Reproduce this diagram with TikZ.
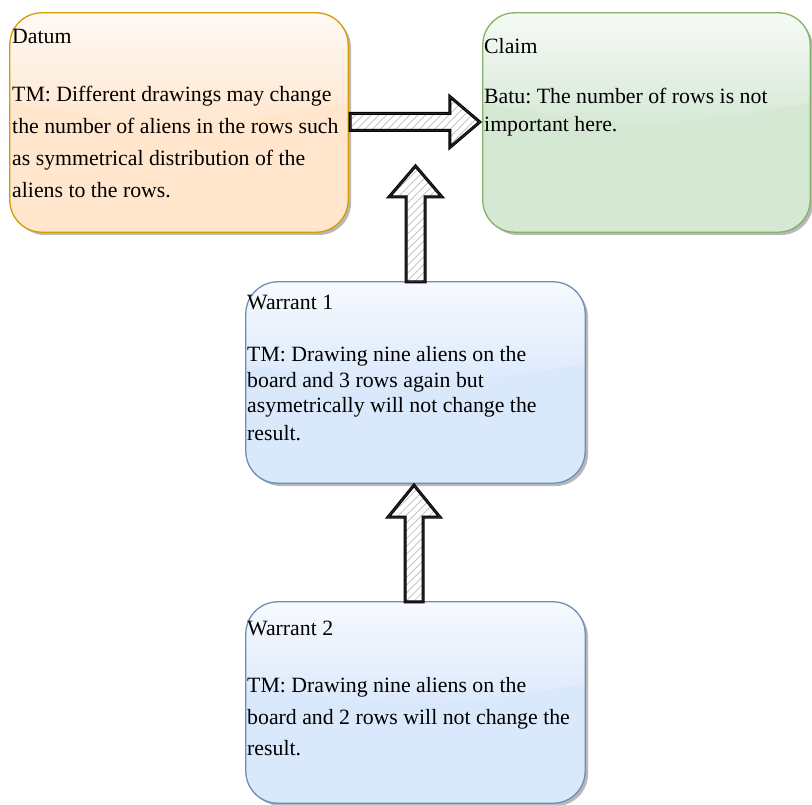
\documentclass[tikz,border=0pt]{standalone}
\usepackage{fontspec}
\setmainfont{Liberation Serif}
\usetikzlibrary{calc,patterns.meta,shadows,fadings}

\definecolor{datumfill}{HTML}{FFE6CC}
\definecolor{datumline}{HTML}{D79B00}
\definecolor{claimfill}{HTML}{D5E8D4}
\definecolor{claimline}{HTML}{82B366}
\definecolor{warrfill}{HTML}{DAE8FC}
\definecolor{warrline}{HTML}{6C8EBF}

\tikzset{
  card/.style={rectangle, rounded corners=32pt, inner sep=0pt,
    drop shadow={shadow xshift=3pt, shadow yshift=-3pt, fill=black, opacity=0.28}},
  cardedge/.style={rounded corners=32pt, line width=1.3pt},
  txt/.style={anchor=base west, inner sep=0pt, font=\fontsize{21.8}{26}\selectfont},
  hatch/.style={pattern={Lines[angle=45,distance=5.5pt,line width=0.7pt]}, pattern color=gray!55},
  arrowline/.style={draw=black, line width=3pt, line join=miter},
  arrowsketch/.style={draw=black!85, line width=1.1pt, line join=miter},
}

% glassy highlight over the upper part of a card, then its outline
\newcommand{\glasscard}[2]{%
  \begin{scope}
    \clip[rounded corners=32pt] (#1.north west) rectangle (#1.south east);
    \fill[white, fill opacity=0.8, path fading=south]
      (#1.north west)
      -- ($(#1.north west)!0.41!(#1.south west)$)
      .. controls ($(#1.north)!0.54!(#1.south)$)
      .. ($(#1.north east)!0.41!(#1.south east)$)
      -- (#1.north east) -- cycle;
  \end{scope}
  \draw[cardedge, draw=#2] (#1.north west) rectangle (#1.south east);
}

% hatched, hand-drawn block arrow: hatch offset like a shadow, doubled outline
\newcommand{\sketcharrow}[1]{%
  \fill[hatch, xshift=3.5pt, yshift=-4.5pt] #1;
  \draw[arrowline] #1;
  \draw[arrowsketch, xshift=1.4pt, yshift=-1.2pt] #1;
}

\begin{document}
\frenchspacing
\begin{tikzpicture}[x=1pt, y=-1pt]
\useasboundingbox (0,0) rectangle (812,805);

% boxes
\node[card, fill=datumfill, minimum width=338pt, minimum height=219pt] (datum) at (179,122.5) {};
\node[card, fill=claimfill, minimum width=327pt, minimum height=219pt] (claim) at (646.5,122.5) {};
\node[card, fill=warrfill, minimum width=339pt, minimum height=201pt] (w1) at (415.5,382.5) {};
\node[card, fill=warrfill, minimum width=339pt, minimum height=201pt] (w2) at (415.5,702.5) {};
\glasscard{datum}{datumline}
\glasscard{claim}{claimline}
\glasscard{w1}{warrline}
\glasscard{w2}{warrline}

% Datum -> Claim
\coordinate (hs) at ($(datum.east |- 0,122)+(2,0)$);
\coordinate (ht) at ($(claim.west |- 0,122)+(-3,0)$);
\sketcharrow{($(hs)+(0,-8.5)$) -- ($(ht)+(-30,-8.5)$) -- ($(ht)+(-30,-25.5)$) -- (ht)
  -- ($(ht)+(-30,25.5)$) -- ($(ht)+(-30,8.5)$) -- ($(hs)+(0,8.5)$) -- cycle}

% Warrant 1 -> between Datum and Claim
\coordinate (t1) at (w1.north |- 0,166);
\sketcharrow{($(w1.north)+(-9.5,0)$) -- ($(t1)+(-9.5,31)$) -- ($(t1)+(-26.5,31)$) -- (t1)
  -- ($(t1)+(26.5,31)$) -- ($(t1)+(9.5,31)$) -- ($(w1.north)+(9.5,0)$) -- cycle}

% Warrant 2 -> Warrant 1
\coordinate (t2) at ($(w1.south)+(-1.5,2)$);
\sketcharrow{($(w2.north)+(-10.5,0)$) -- ($(t2)+(-9,32)$) -- ($(t2)+(-26,32)$) -- (t2)
  -- ($(t2)+(26,32)$) -- ($(t2)+(9,32)$) -- ($(w2.north)+(7.5,0)$) -- cycle}

% texts
\node[txt] (d0) at (12,44) {Datum};
\node[txt] (d1) at (12,102) {TM: Different drawings may change};
\node[txt] (d2) at (12,134) {the number of aliens in the rows such};
\node[txt] (d3) at (12,166) {as symmetrical distribution of the};
\node[txt] (d4) at (12,198) {aliens to the rows.};

\node[txt] (c0) at (484,54) {Claim};
\node[txt] (c1) at (484,104) {Batu: The number of rows is not};
\node[txt] (c2) at (484,132) {important here.};

\node[txt] (a0) at (247,310) {Warrant 1};
\node[txt] (a1) at (247,362) {TM: Drawing nine aliens on the};
\node[txt] (a2) at (247,387) {board and 3 rows again but};
\node[txt] (a3) at (247,412) {asymetrically will not change the};
\node[txt] (a4) at (247,440) {result.};

\node[txt] (b0) at (247,635) {Warrant 2};
\node[txt] (b1) at (247,692) {TM: Drawing nine aliens on the};
\node[txt] (b2) at (247,724) {board and 2 rows will not change the};
\node[txt] (b3) at (247,755) {result.};
\end{tikzpicture}
\end{document}
